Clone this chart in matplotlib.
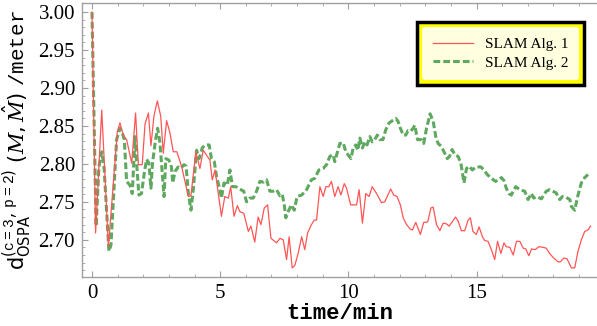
import numpy as np
import matplotlib
matplotlib.use('Agg')
import matplotlib.pyplot as plt
from matplotlib.patches import Rectangle
from matplotlib.transforms import IdentityTransform

# SLAM Alg. 1 (red)
t1=[0.00,0.14,0.38,0.64,0.99,1.09,1.22,1.35,1.55,1.70,1.81,1.96,2.07,2.20,2.30,2.42,2.55,2.68,2.78,2.91,
    3.04,3.17,3.31,3.50,3.76,3.86,4.05,4.21,4.34,4.60,4.69,4.80,5.05,5.18,5.32,5.41,5.54,5.67,5.77,5.92,
    6.10,6.20,6.35,6.48,6.59,6.72,6.85,6.98,7.20,7.33,7.46,7.59,7.69,7.81,7.91,8.04,8.18,8.30,8.41,8.56,
    8.67,8.76,8.89,9.02,9.12,9.24,9.34,9.47,9.60,9.71,9.84,9.93,10.09,10.32,10.42,10.55,10.68,10.81,10.93,11.10,
    11.29,11.42,11.65,11.77,11.90,12.03,12.14,12.27,12.42,12.50,12.63,12.81,12.94,13.04,13.10,13.22,13.31,13.44,13.57,13.70,
    13.83,13.93,14.06,14.18,14.28,14.41,14.54,14.67,14.76,14.86,14.99,15.10,15.23,15.32,15.45,15.58,15.71,15.82,15.95,16.07,
    16.16,16.30,16.43,16.56,16.69,16.82,16.92,17.04,17.15,17.28,17.44,17.60,17.72,17.85,18.01,18.18,18.27,18.41,18.53,18.70,
    18.83,18.96,19.09,19.22,19.35,19.45]
y1=[3.000,2.709,2.871,2.691,2.843,2.854,2.838,2.832,2.801,2.867,2.799,2.799,2.853,2.867,2.824,2.864,2.883,2.863,2.814,2.857,
    2.841,2.816,2.816,2.796,2.757,2.758,2.816,2.794,2.818,2.805,2.779,2.792,2.731,2.757,2.755,2.770,2.731,2.745,2.737,2.735,
    2.711,2.718,2.697,2.730,2.720,2.742,2.746,2.702,2.696,2.702,2.700,2.674,2.704,2.663,2.666,2.682,2.704,2.687,2.709,2.720,
    2.726,2.726,2.770,2.757,2.770,2.770,2.777,2.757,2.770,2.759,2.774,2.768,2.746,2.746,2.766,2.722,2.761,2.757,2.770,2.761,
    2.749,2.750,2.767,2.759,2.757,2.746,2.729,2.720,2.714,2.713,2.723,2.707,2.723,2.723,2.724,2.742,2.743,2.720,2.712,2.722,
    2.721,2.718,2.724,2.730,2.725,2.712,2.712,2.726,2.729,2.711,2.707,2.717,2.704,2.699,2.698,2.687,2.674,2.698,2.682,2.696,
    2.691,2.690,2.680,2.698,2.698,2.689,2.688,2.679,2.688,2.687,2.691,2.690,2.689,2.682,2.676,2.671,2.671,2.676,2.675,2.663,
    2.663,2.685,2.700,2.711,2.713,2.718]

# SLAM Alg. 2 (green dashed)
t2=[0.00,0.16,0.27,0.38,0.47,0.66,0.74,0.96,1.09,1.19,1.26,1.35,1.48,1.57,1.68,1.74,1.83,1.93,2.04,2.13,
    2.22,2.30,2.36,2.48,2.56,2.65,2.74,2.81,2.88,3.00,3.10,3.15,3.24,3.36,3.46,3.59,3.67,3.76,3.86,3.95,
    4.08,4.18,4.30,4.41,4.57,4.66,4.77,4.86,4.99,5.05,5.15,5.28,5.38,5.48,5.61,5.70,5.81,5.92,6.03,6.16,
    6.29,6.42,6.55,6.69,6.81,6.94,7.07,7.20,7.33,7.42,7.50,7.56,7.65,7.78,7.89,8.00,8.18,8.37,8.56,8.69,
    8.85,9.02,9.15,9.28,9.41,9.47,9.58,9.67,9.80,9.90,10.10,10.19,10.29,10.37,10.45,10.55,10.64,10.73,10.84,10.93,
    11.03,11.13,11.23,11.35,11.46,11.59,11.72,11.85,11.94,12.03,12.14,12.24,12.33,12.42,12.53,12.59,12.70,12.85,12.94,13.05,
    13.19,13.31,13.41,13.50,13.63,13.76,13.86,13.95,14.05,14.15,14.28,14.39,14.45,14.51,14.61,14.71,14.84,14.97,15.17,15.29,
    15.42,15.58,15.74,15.87,15.97,16.07,16.16,16.26,16.36,16.46,16.53,16.69,16.88,17.01,17.14,17.23,17.34,17.53,17.72,17.85,
    17.98,18.10,18.25,18.35,18.50,18.64,18.70,18.83,18.96,19.09,19.22,19.35]
y2=[3.000,2.718,2.796,2.816,2.796,2.685,2.693,2.832,2.847,2.840,2.832,2.777,2.772,2.761,2.836,2.801,2.759,2.761,2.788,2.806,
    2.801,2.768,2.801,2.832,2.847,2.828,2.788,2.757,2.807,2.805,2.796,2.775,2.790,2.796,2.794,2.799,2.797,2.761,2.739,2.766,
    2.818,2.807,2.821,2.825,2.825,2.807,2.803,2.783,2.766,2.755,2.775,2.772,2.792,2.770,2.770,2.768,2.766,2.764,2.750,2.755,
    2.755,2.764,2.777,2.776,2.779,2.764,2.764,2.766,2.758,2.760,2.746,2.729,2.737,2.746,2.739,2.757,2.759,2.766,2.779,2.781,
    2.792,2.794,2.799,2.810,2.812,2.803,2.816,2.827,2.828,2.816,2.807,2.821,2.825,2.818,2.834,2.821,2.829,2.825,2.836,2.829,
    2.832,2.838,2.832,2.832,2.845,2.854,2.857,2.860,2.856,2.847,2.838,2.838,2.844,2.843,2.847,2.851,2.832,2.832,2.827,2.847,
    2.866,2.856,2.836,2.827,2.823,2.814,2.807,2.810,2.819,2.812,2.810,2.801,2.788,2.775,2.794,2.797,2.792,2.796,2.796,2.792,
    2.786,2.781,2.777,2.779,2.782,2.778,2.768,2.761,2.759,2.766,2.770,2.766,2.764,2.753,2.761,2.755,2.757,2.754,2.764,2.766,
    2.764,2.762,2.753,2.757,2.756,2.753,2.744,2.739,2.759,2.775,2.782,2.786]

labels=['SLAM Alg. 1','SLAM Alg. 2']
xticks=[0,5,10,15]
yticks=[2.70,2.75,2.80,2.85,2.90,2.95,3.00]

plt.rcParams['mathtext.fontset']='custom'
plt.rcParams['mathtext.tt']='Liberation Mono'
plt.rcParams['mathtext.sf']='DejaVu Sans'
plt.rcParams['mathtext.rm']='DejaVu Sans'
plt.rcParams['mathtext.cal']='DejaVu Serif:italic'

fig=plt.figure(figsize=(5.97,3.26),dpi=100)
ax=fig.add_axes([82/597,1-277/326,515/597,274/326])

ax.plot(t1,y1,color='#ff5555',lw=0.9,label=labels[0],zorder=3)
l2,=ax.plot(t2,y2,color='#5fa85f',lw=2.2,label=labels[1],zorder=2)
l2.set_dashes((2.2,1.0))

ax.set_xlim(-0.39,19.7)
ax.set_ylim(2.651,3.012)
ax.set_xticks(xticks)
ax.set_yticks(yticks)
ax.set_xticklabels([str(v) for v in xticks])
ax.set_yticklabels(['%.2f'%v for v in yticks])
ax.set_xticks(np.arange(0,20,1),minor=True)
ax.set_yticks(np.arange(2.66,3.01,0.01),minor=True)

gray='#a0a0a0'
for s in ['left','bottom','top']:
	ax.spines[s].set_color(gray)
	ax.spines[s].set_linewidth(1.0)
ax.spines['right'].set_visible(False)
ax.tick_params(which='both',direction='in',color=gray,top=True,right=False,pad=5)
ax.tick_params(which='major',length=4)
ax.tick_params(which='minor',length=2)
for lab in ax.get_xticklabels()+ax.get_yticklabels():
	lab.set_fontfamily('Liberation Serif')
	lab.set_fontsize(15)

ax.set_xlabel('time/min',fontfamily='Liberation Mono',fontsize=16,fontweight='bold',labelpad=0)
ax.set_ylabel(r'$\mathsf{d}_{\mathsf{OSPA}}^{(\mathtt{c=3,p=2})}\ (\mathcal{M},\hat{\mathcal{M}})\ \mathtt{/meter}$',
	fontsize=15,labelpad=4)

leg=ax.legend(loc='upper right',bbox_to_anchor=(0.98,0.94),prop={'family':'Liberation Serif','size':11},
	frameon=True,fancybox=True,handlelength=2.6,borderpad=0.7,labelspacing=0.3)
fr=leg.get_frame()
fr.set_facecolor('#ffffe0')
fr.set_edgecolor('none')
fr.set_alpha(1)
leg.set_zorder(6)

# yellow/black outer box behind the legend
fig.canvas.draw()
bb=leg.get_window_extent()
p=5
box=Rectangle((bb.x0-p,bb.y0-p),bb.width+2*p,bb.height+2*p,transform=IdentityTransform(),
	facecolor='yellow',edgecolor='black',lw=2.5,zorder=5,clip_on=False)
ax.add_artist(box)

fig.savefig('out.png',dpi=100)
